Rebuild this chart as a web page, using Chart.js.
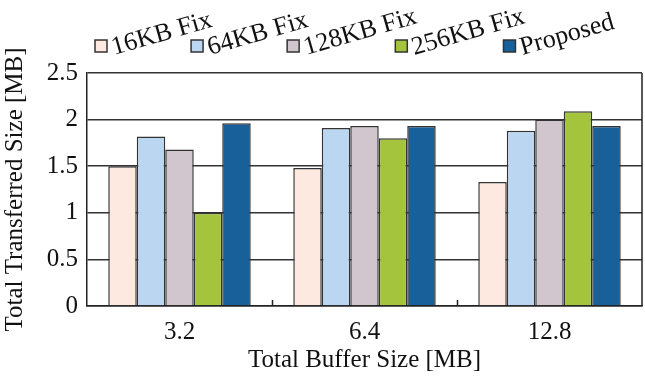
<!DOCTYPE html>
<html>
<head>
<meta charset="utf-8">
<script src="https://cdn.jsdelivr.net/npm/chart.js@4"></script>
<style>
  html, body { margin: 0; padding: 0; background: #fff; }
  #wrap { width: 645px; height: 377px; }
</style>
</head>
<body>
<div id="wrap"><canvas id="bufferChart" width="645" height="377"></canvas></div>
<script>
// Data
const categories = ['3.2', '6.4', '12.8'];
const seriesNames = ['16KB Fix', '64KB Fix', '128KB Fix', '256KB Fix', 'Proposed'];
const fix16 = [1.50, 1.48, 1.33];
const fix64 = [1.82, 1.91, 1.88];
const fix128 = [1.68, 1.93, 2.00];
const fix256 = [1.00, 1.80, 2.09];
const proposed = [1.96, 1.93, 1.93];
const yTicks = [0, 0.5, 1, 1.5, 2, 2.5];

const colors = ['#FEE9E0', '#BBD6F0', '#D1C6CD', '#A4C43E', '#17609A'];
const serif = "'Liberation Serif', 'Times New Roman', serif";

// Rotated legend + right frame line + inner x ticks
const slantLegend = {
  id: 'slantLegend',
  afterDraw(chart) {
    const ctx = chart.ctx;
    const area = chart.chartArea;
    const xs = chart.scales.x;
    ctx.save();
    ctx.strokeStyle = '#222';
    ctx.lineWidth = 1.5;
    ctx.beginPath();
    ctx.moveTo(area.right, area.top);
    ctx.lineTo(area.right, area.bottom);
    const step = (xs.getPixelForValue(1) - xs.getPixelForValue(0)) / 2;
    for (let i = 0; i < categories.length - 1; i++) {
      const x = Math.round(xs.getPixelForValue(i) + step) + 0.5;
      ctx.moveTo(x, area.bottom);
      ctx.lineTo(x, area.bottom - 6);
    }
    ctx.stroke();

    ctx.font = '26px ' + serif;
    ctx.textBaseline = 'alphabetic';
    let x = area.left + 8;
    const boxTop = area.top - 33;
    chart.data.datasets.forEach((ds) => {
      ctx.fillStyle = ds.backgroundColor;
      ctx.fillRect(x, boxTop, 12, 12);
      ctx.strokeStyle = '#333';
      ctx.lineWidth = 1.5;
      ctx.strokeRect(x, boxTop, 12, 12);
      ctx.save();
      ctx.translate(x + 19, boxTop + 15);
      ctx.rotate(-16 * Math.PI / 180);
      ctx.fillStyle = '#111';
      ctx.fillText(ds.label, 0, 0);
      ctx.restore();
      x += ctx.measureText(ds.label).width * 0.93;
    });
    ctx.restore();
  }
};

const values = [fix16, fix64, fix128, fix256, proposed];

new Chart(document.getElementById('bufferChart'), {
  type: 'bar',
  data: {
    labels: categories,
    datasets: seriesNames.map((name, i) => ({
      label: name,
      data: values[i],
      backgroundColor: colors[i],
      borderColor: '#333',
      borderWidth: 1.5,
      barPercentage: 1.0,
      categoryPercentage: 0.77,
    })),
  },
  options: {
    responsive: false,
    animation: false,
    layout: { padding: { top: 73, right: 3, left: 0, bottom: 0 } },
    plugins: {
      legend: { display: false },
      tooltip: { enabled: false },
    },
    scales: {
      x: {
        afterFit(scale) { scale.height = 71; },
        grid: { display: false },
        border: { color: '#222', width: 1.5 },
        ticks: { color: '#111', font: { family: serif, size: 25 }, padding: 3 },
        title: {
          display: true,
          text: 'Total Buffer Size [MB]',
          color: '#111',
          font: { family: serif, size: 25 },
          padding: { top: 0, bottom: 2 },
        },
      },
      y: {
        min: 0,
        max: 2.5,
        afterFit(scale) { scale.width = 87; },
        afterBuildTicks(scale) { scale.ticks = yTicks.map((v) => ({ value: v })); },
        grid: { color: '#333', lineWidth: 1.5, drawTicks: false },
        border: { color: '#222', width: 1.5 },
        ticks: {
          color: '#111',
          font: { family: serif, size: 25 },
          padding: 9,
          callback: (v) => String(v),
        },
        title: {
          display: true,
          text: 'Total Transferred Size [MB]',
          color: '#111',
          font: { family: serif, size: 25 },
          padding: { top: 0, bottom: 0 },
        },
      },
    },
  },
  plugins: [slantLegend],
});
</script>
</body>
</html>
